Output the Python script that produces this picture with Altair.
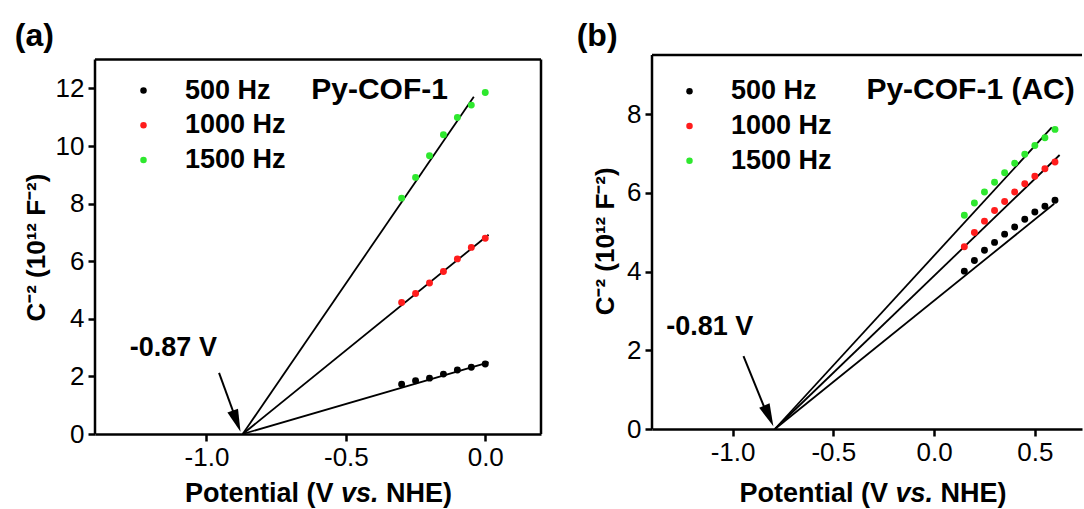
import altair as alt
import pandas as pd

FONT = "Liberation Sans"
FREQS = ["500 Hz", "1000 Hz", "1500 Hz"]
COLORS = ["#000000", "#ff1c1c", "#2ee82e"]

# ---- panel (a) Py-COF-1 ----
A_POT = [-0.30, -0.25, -0.20, -0.15, -0.10, -0.05, 0.00]
A_500 = [1.73, 1.85, 1.94, 2.08, 2.22, 2.32, 2.43]
A_1000 = [4.57, 4.88, 5.24, 5.64, 6.08, 6.48, 6.80]
A_1500 = [8.19, 8.91, 9.66, 10.39, 10.99, 11.42, 11.86]
A_FIT_X0 = -0.87
A_FIT_END_X = [0.012, 0.012, -0.041]
A_FIT_END_Y = [2.49, 6.92, 11.71]
A_XTICKS = [-1.0, -0.5, 0.0]
A_YTICKS = [0, 2, 4, 6, 8, 10, 12]

# ---- panel (b) Py-COF-1 (AC) ----
B_POT = [0.15, 0.20, 0.25, 0.30, 0.35, 0.40, 0.45, 0.50, 0.55, 0.60]
B_500 = [4.01, 4.28, 4.54, 4.74, 4.95, 5.13, 5.33, 5.51, 5.66, 5.81]
B_1000 = [4.63, 4.99, 5.28, 5.55, 5.78, 6.02, 6.23, 6.42, 6.61, 6.78]
B_1500 = [5.43, 5.74, 6.02, 6.27, 6.51, 6.75, 6.98, 7.20, 7.40, 7.61]
B_FIT_X0 = -0.79
B_FIT_END_X = [0.596, 0.623, 0.584]
B_FIT_END_Y = [5.72, 6.96, 7.66]
B_XTICKS = [-1.0, -0.5, 0.0, 0.5]
B_YTICKS = [0, 2, 4, 6, 8]

LABEL_EXPR = "datum.value < 0 ? '-' + format(-datum.value, '.1f') : format(datum.value, '.1f')"
ONE = pd.DataFrame({"k": [0]})


def panel(pot, series, x0, end_x, end_y, xdom, ydom, xticks, yticks, width, height, top,
          tag, tag_xy, name, name_xy, vtext, vtext_xy, arrow, head, head_angle,
          legend_xy, xtitle_y, xtitle_cx, ytitle_xy, right_frame):
    pts = pd.DataFrame([{"pot": p, "c": v, "freq": f}
                        for f, vals in zip(FREQS, series) for p, v in zip(pot, vals)])
    fit_rows = []
    for f, ex, ey in zip(FREQS, end_x, end_y):
        fit_rows.append({"freq": f, "x": x0, "y": 0.0, "o": 0})
        fit_rows.append({"freq": f, "x": ex, "y": ey, "o": 1})
    fit = pd.DataFrame(fit_rows)

    xs = alt.Scale(domain=xdom, nice=False, zero=False)
    ys = alt.Scale(domain=ydom, nice=False, zero=False)
    xaxis = alt.Axis(values=xticks, title=None, grid=False, labelExpr=LABEL_EXPR,
                     labelPadding=3)
    yaxis = alt.Axis(values=yticks, title=None, grid=False, format="d", labelPadding=4,
                     domain=False)

    def X(f):
        return alt.X(f, scale=xs, axis=xaxis)

    def Y(f):
        return alt.Y(f, scale=ys, axis=yaxis)

    lines = alt.Chart(fit).mark_line(color="black", strokeWidth=1.8).encode(
        x=X("x:Q"), y=Y("y:Q"), detail="freq:N", order="o:Q")

    points = alt.Chart(pts).mark_circle(size=48, opacity=1).encode(
        x=X("pot:Q"), y=Y("c:Q"),
        color=alt.Color("freq:N",
                        scale=alt.Scale(domain=FREQS, range=COLORS),
                        sort=FREQS,
                        legend=alt.Legend(orient="none", legendX=legend_xy[0], legendY=legend_xy[1],
                                          title=None, padding=0, labelFont=FONT,
                                          labelFontSize=27, labelFontWeight="bold",
                                          labelColor="black", symbolSize=42,
                                          symbolType="circle", symbolStrokeWidth=0,
                                          symbolOpacity=1, labelOffset=28, rowPadding=6.7)))

    arr = pd.DataFrame({"x": [arrow[0]], "y": [arrow[1]], "x2": [arrow[2]], "y2": [arrow[3]]})
    arrow_line = alt.Chart(arr).mark_rule(color="black", strokeWidth=2).encode(
        x=X("x:Q"), y=Y("y:Q"), x2="x2:Q", y2="y2:Q")
    hd = pd.DataFrame({"x": [head[0]], "y": [head[1]]})
    arrow_head = alt.Chart(hd).mark_point(shape="M0,-1L0.5,1L-0.5,1Z", filled=True, size=511,
                                          angle=head_angle, color="black", opacity=1,
                                          strokeWidth=0).encode(x=X("x:Q"), y=Y("y:Q"))

    vt = pd.DataFrame({"x": [vtext_xy[0]], "y": [vtext_xy[1]], "t": [vtext]})
    vlabel = alt.Chart(vt).mark_text(font=FONT, fontSize=27, fontWeight="bold", align="left",
                                     baseline="middle", color="black").encode(
        x=X("x:Q"), y=Y("y:Q"), text="t:N")
    nm = pd.DataFrame({"x": [name_xy[0]], "y": [name_xy[1]], "t": [name]})
    nlabel = alt.Chart(nm).mark_text(font=FONT, fontSize=30, fontWeight="bold", align="center",
                                     baseline="middle", color="black").encode(
        x=X("x:Q"), y=Y("y:Q"), text="t:N")

    tag_text = alt.Chart(ONE).mark_text(text=tag, font=FONT, fontSize=32, fontWeight="bold",
                                        align="left", baseline="middle", color="black").encode(
        x=alt.value(tag_xy[0]), y=alt.value(tag_xy[1]))

    fs = 27
    x1 = xtitle_cx + 0.5555 * fs
    sp = 0.278 * fs
    xt1 = alt.Chart(ONE).mark_text(text="Potential (V", font=FONT, fontSize=fs, fontWeight="bold",
                                   align="right", baseline="alphabetic", color="black").encode(
        x=alt.value(x1), y=alt.value(xtitle_y))
    xt2 = alt.Chart(ONE).mark_text(text="vs.", font=FONT, fontSize=fs, fontWeight="bold",
                                   fontStyle="italic", align="left", baseline="alphabetic",
                                   color="black").encode(
        x=alt.value(x1 + sp), y=alt.value(xtitle_y))
    xt3 = alt.Chart(ONE).mark_text(text="NHE)", font=FONT, fontSize=fs, fontWeight="bold",
                                   align="left", baseline="alphabetic", color="black").encode(
        x=alt.value(x1 + sp + 1.39 * fs + sp), y=alt.value(xtitle_y))
    yt = alt.Chart(ONE).mark_text(text="C\u207b\u00b2 (10\u00b9\u00b2 F\u207b\u00b2)", font=FONT,
                                  fontSize=26, fontWeight="bold", angle=270, align="center",
                                  baseline="middle", color="black").encode(
        x=alt.value(ytitle_xy[0]), y=alt.value(ytitle_xy[1]))

    frame = [
        alt.Chart(ONE).mark_rule(color="black", strokeWidth=2.5).encode(
            x=alt.value(0), x2=alt.value(width), y=alt.value(top)),
        alt.Chart(ONE).mark_rule(color="black", strokeWidth=2.5).encode(
            x=alt.value(0), y=alt.value(top), y2=alt.value(height)),
    ]
    if right_frame:
        frame.append(alt.Chart(ONE).mark_rule(color="black", strokeWidth=2.5).encode(
            x=alt.value(width), y=alt.value(top), y2=alt.value(height)))
    layers = [lines, points, arrow_line, arrow_head, vlabel, nlabel, tag_text, xt1, xt2, xt3, yt] + frame
    return alt.layer(*layers).properties(width=width, height=height)


SH = 4.6  # panel (a) frame sits this much lower than panel (b)
pa = panel(A_POT, [A_500, A_1000, A_1500], A_FIT_X0, A_FIT_END_X, A_FIT_END_Y,
           [-1.4, 0.2], [0, 13 * (374.4 + SH) / 374.4], A_XTICKS, A_YTICKS, 446, 379, SH,
           "(a)", (-80.2, -18.7), "Py-COF-1", (-0.379, 11.95), "-0.87 V", (-1.275, 2.98),
           (-0.955, 2.12, -0.890, 0.40), (-0.892, 0.444), 159.8,
           (35, 17.5 + SH), 442.2 + SH, 223.5, (-58, 188 + SH), True)

pb = panel(B_POT, [B_500, B_1000, B_1500], B_FIT_X0, B_FIT_END_X, B_FIT_END_Y,
           [-1.4, 0.734], [0, 9.5], B_XTICKS, B_YTICKS, 430, 374, 0,
           "(b)", (-75.3, -18.7), "Py-COF-1 (AC)", (0.181, 8.6), "-0.81 V", (-1.329, 2.58),
           (-0.946, 1.85, -0.823, 0.30), (-0.82, 0.333), 156.6,
           (24, 22.8), 447.3, 221.0, (-46, 186.3), False)

chart = alt.concat(pa, pb, columns=2, align="none", spacing=33).resolve_scale(
    color="independent").resolve_legend(color="independent").properties(
    padding={"left": 14, "top": 19, "right": 0, "bottom": 0}
).configure(font=FONT).configure_view(stroke="transparent").configure_axis(
    domainColor="black", domainWidth=2.5, tickColor="black", tickWidth=2.5, tickSize=7,
    labelFont=FONT, labelFontSize=26, labelColor="black", grid=False
)

chart.save("out.html", embed_options={"renderer": "svg", "actions": False})
